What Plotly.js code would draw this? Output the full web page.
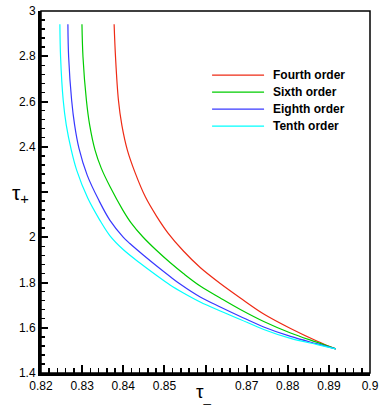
<!DOCTYPE html>
<html>
<head>
<meta charset="utf-8">
<script src="https://cdn.plot.ly/plotly-3.0.1.min.js"></script>
<style>html,body{margin:0;padding:0;background:#fff;}#chart{width:379px;height:406px;}</style>
</head>
<body>
<div id="chart"></div>
<script>
// Series names and colours
const seriesNames = ["Fourth order", "Sixth order", "Eighth order", "Tenth order"];
const seriesColors = ["#ee2a14", "#00cc00", "#3838ff", "#00ffff"];

// tau_- (x) and tau_+ (y) values
const xFourth = [0.83778, 0.83812, 0.83883, 0.83966, 0.84100, 0.84283, 0.84540, 0.84808, 0.85089, 0.85463, 0.85871, 0.86359, 0.86847, 0.87416, 0.88068, 0.88720, 0.89167];
const yFourth = [2.9413, 2.7969, 2.6057, 2.4954, 2.3850, 2.2879, 2.1775, 2.0936, 2.0185, 1.9391, 1.8662, 1.7956, 1.7316, 1.6609, 1.5969, 1.5404, 1.5064];

const xSixth = [0.82996, 0.83021, 0.83104, 0.83184, 0.83314, 0.83465, 0.83680, 0.83990, 0.84186, 0.84474, 0.84813, 0.85138, 0.85463, 0.85871, 0.86359, 0.86847, 0.87416, 0.88068, 0.88720, 0.89167];
const ySixth = [2.9413, 2.7969, 2.6057, 2.4954, 2.3850, 2.3055, 2.2230, 2.1201, 2.0649, 2.0022, 1.9413, 1.8883, 1.8397, 1.7845, 1.7316, 1.6808, 1.6278, 1.5770, 1.5351, 1.5064];

const xEighth = [0.82654, 0.82672, 0.82745, 0.82818, 0.82922, 0.83123, 0.83404, 0.83673, 0.83998, 0.84161, 0.84486, 0.84813, 0.85138, 0.85382, 0.85871, 0.86359, 0.86847, 0.87416, 0.88068, 0.88720, 0.89167];
const yEighth = [2.9413, 2.7969, 2.6057, 2.4954, 2.3938, 2.2746, 2.1642, 2.0759, 2.0009, 1.9722, 1.9214, 1.8729, 1.8265, 1.7934, 1.7360, 1.6918, 1.6499, 1.6035, 1.5616, 1.5285, 1.5064];

const xTenth = [0.82459, 0.82476, 0.82540, 0.82615, 0.82737, 0.82867, 0.83136, 0.83429, 0.83673, 0.83998, 0.84405, 0.84813, 0.85138, 0.85463, 0.85871, 0.86359, 0.86847, 0.87416, 0.88068, 0.88720, 0.89167];
const yTenth = [2.9413, 2.7969, 2.6057, 2.4954, 2.3850, 2.2967, 2.1731, 2.0759, 2.0075, 1.9457, 1.8861, 1.8309, 1.7890, 1.7536, 1.7139, 1.6742, 1.6366, 1.5925, 1.5528, 1.5254, 1.5064];

// tick labels hidden behind the axis titles in the reference
const hiddenTickLabels = {"2.2": "", "0.86": ""};

const xs = [xFourth, xSixth, xEighth, xTenth];
const ys = [yFourth, ySixth, yEighth, yTenth];

const traces = seriesNames.map((n, i) => ({
  x: xs[i], y: ys[i], name: n, type: "scatter", mode: "lines",
  line: {color: seriesColors[i], width: 1.2, shape: "spline", smoothing: 1},
  showlegend: false, hoverinfo: "skip"
}));

// custom legend (long line samples like the reference)
const legTop = 0.823, legStep = 0.047;
const shapes = [{type: "rect", xref: "paper", yref: "paper", x0: 0, x1: 1, y0: 0, y1: 1, line: {color: "#000", width: 1.5}}];
const annotations = [];
seriesNames.forEach((n, i) => {
  const yy = legTop - i * legStep;
  shapes.push({type: "line", xref: "paper", yref: "paper", x0: 0.52, x1: 0.678, y0: yy, y1: yy, line: {color: seriesColors[i], width: 1.2}});
  annotations.push({xref: "paper", yref: "paper", x: 0.70, y: yy, xanchor: "left", yanchor: "middle", text: "<b>" + n + "</b>", showarrow: false, font: {family: "Liberation Sans, Arial", size: 12, color: "#000"}});
});
annotations.push({xref: "paper", yref: "paper", x: -0.093, y: 0.495, xanchor: "left", yanchor: "middle", text: "τ<sub>+</sub>", showarrow: false, font: {family: "Liberation Sans, Arial", size: 21, color: "#000"}});
annotations.push({xref: "paper", yref: "paper", x: 0.466, y: -0.017, xanchor: "left", yanchor: "top", text: "τ<sub>_</sub>", showarrow: false, font: {family: "Liberation Sans, Arial", size: 19, color: "#000"}});

const layout = {
  width: 379, height: 406,
  margin: {l: 41, r: 9, t: 11, b: 33},
  paper_bgcolor: "#fff", plot_bgcolor: "#fff",
  font: {family: "Liberation Sans, Arial", size: 12, color: "#000"},
  xaxis: {
    range: [0.82, 0.9], dtick: 0.01, tick0: 0.82,
    showgrid: false, zeroline: false,
    showline: true, linewidth: 3, linecolor: "#000",
    ticks: "inside", ticklen: 8, tickwidth: 2, tickcolor: "#000",
    minor: {ticks: "inside", ticklen: 5, tickwidth: 1.5, tickcolor: "#000", dtick: 0.002},
    labelalias: hiddenTickLabels,
    tickfont: {family: "Liberation Sans, Arial", size: 12, color: "#000"}
  },
  yaxis: {
    range: [1.4, 3], dtick: 0.2, tick0: 1.4,
    showgrid: false, zeroline: false,
    showline: true, linewidth: 3, linecolor: "#000",
    ticks: "inside", ticklen: 7, tickwidth: 2, tickcolor: "#000",
    minor: {ticks: "inside", ticklen: 4, tickwidth: 1.5, tickcolor: "#000", dtick: 0.04},
    labelalias: hiddenTickLabels,
    tickfont: {family: "Liberation Sans, Arial", size: 12, color: "#000"}
  },
  shapes: shapes,
  annotations: annotations,
  showlegend: false
};

Plotly.newPlot("chart", traces, layout, {staticPlot: true, displayModeBar: false});
</script>
</body>
</html>
